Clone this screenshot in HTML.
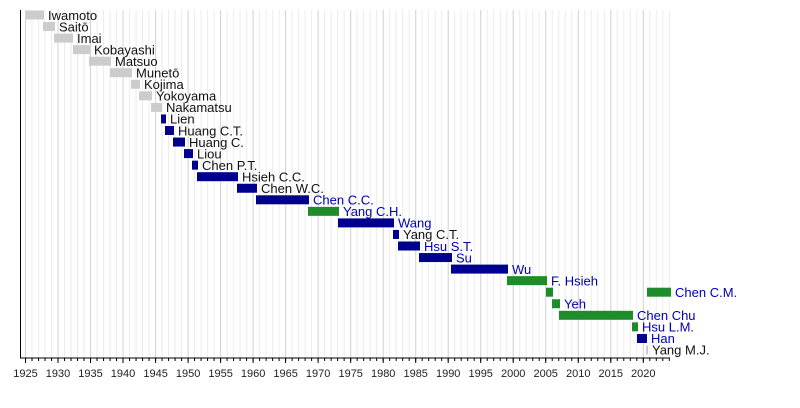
<!DOCTYPE html>
<html><head><meta charset="utf-8"><style>html,body{margin:0;padding:0;background:#fff}svg{display:block}text{font-family:"Liberation Sans",sans-serif;font-size:13px}</style></head><body>
<svg width="800" height="408" viewBox="0 0 800 408" xmlns="http://www.w3.org/2000/svg">
<defs>
<pattern id="g" patternUnits="userSpaceOnUse" x="25" y="0" width="6.503" height="10"><rect x="0" y="0" width="1" height="10" fill="#ececec"/></pattern>
<pattern id="t" patternUnits="userSpaceOnUse" x="25" y="358" width="6.503" height="10"><rect x="0" y="0" width="1" height="3" fill="#000"/></pattern>
</defs>
<rect x="21" y="10" width="650" height="348" fill="url(#g)"/>
<g stroke="#d4d4d4" stroke-width="1">
<line x1="25.5" y1="10" x2="25.5" y2="358"/><line x1="58" y1="10" x2="58" y2="358"/><line x1="90.5" y1="10" x2="90.5" y2="358"/><line x1="123" y1="10" x2="123" y2="358"/><line x1="155.6" y1="10" x2="155.6" y2="358"/><line x1="188.1" y1="10" x2="188.1" y2="358"/><line x1="220.6" y1="10" x2="220.6" y2="358"/><line x1="253.1" y1="10" x2="253.1" y2="358"/><line x1="285.6" y1="10" x2="285.6" y2="358"/><line x1="318.1" y1="10" x2="318.1" y2="358"/><line x1="350.7" y1="10" x2="350.7" y2="358"/><line x1="383.2" y1="10" x2="383.2" y2="358"/><line x1="415.7" y1="10" x2="415.7" y2="358"/><line x1="448.2" y1="10" x2="448.2" y2="358"/><line x1="480.7" y1="10" x2="480.7" y2="358"/><line x1="513.2" y1="10" x2="513.2" y2="358"/><line x1="545.7" y1="10" x2="545.7" y2="358"/><line x1="578.3" y1="10" x2="578.3" y2="358"/><line x1="610.8" y1="10" x2="610.8" y2="358"/><line x1="643.3" y1="10" x2="643.3" y2="358"/>
</g>
<rect x="21" y="358" width="650" height="3" fill="url(#t)"/>
<g stroke="#000" stroke-width="1">
<line x1="25.5" y1="358" x2="25.5" y2="363"/><line x1="58" y1="358" x2="58" y2="363"/><line x1="90.5" y1="358" x2="90.5" y2="363"/><line x1="123" y1="358" x2="123" y2="363"/><line x1="155.6" y1="358" x2="155.6" y2="363"/><line x1="188.1" y1="358" x2="188.1" y2="363"/><line x1="220.6" y1="358" x2="220.6" y2="363"/><line x1="253.1" y1="358" x2="253.1" y2="363"/><line x1="285.6" y1="358" x2="285.6" y2="363"/><line x1="318.1" y1="358" x2="318.1" y2="363"/><line x1="350.7" y1="358" x2="350.7" y2="363"/><line x1="383.2" y1="358" x2="383.2" y2="363"/><line x1="415.7" y1="358" x2="415.7" y2="363"/><line x1="448.2" y1="358" x2="448.2" y2="363"/><line x1="480.7" y1="358" x2="480.7" y2="363"/><line x1="513.2" y1="358" x2="513.2" y2="363"/><line x1="545.7" y1="358" x2="545.7" y2="363"/><line x1="578.3" y1="358" x2="578.3" y2="363"/><line x1="610.8" y1="358" x2="610.8" y2="363"/><line x1="643.3" y1="358" x2="643.3" y2="363"/>
<line x1="20.5" y1="10" x2="20.5" y2="358.5"/><line x1="20" y1="358" x2="670" y2="358"/>
</g>
<g text-anchor="middle" fill="#222">
<text x="25.5" y="377" style="font-size:11px">1925</text><text x="58" y="377" style="font-size:11px">1930</text><text x="90.5" y="377" style="font-size:11px">1935</text><text x="123" y="377" style="font-size:11px">1940</text><text x="155.6" y="377" style="font-size:11px">1945</text><text x="188.1" y="377" style="font-size:11px">1950</text><text x="220.6" y="377" style="font-size:11px">1955</text><text x="253.1" y="377" style="font-size:11px">1960</text><text x="285.6" y="377" style="font-size:11px">1965</text><text x="318.1" y="377" style="font-size:11px">1970</text><text x="350.7" y="377" style="font-size:11px">1975</text><text x="383.2" y="377" style="font-size:11px">1980</text><text x="415.7" y="377" style="font-size:11px">1985</text><text x="448.2" y="377" style="font-size:11px">1990</text><text x="480.7" y="377" style="font-size:11px">1995</text><text x="513.2" y="377" style="font-size:11px">2000</text><text x="545.7" y="377" style="font-size:11px">2005</text><text x="578.3" y="377" style="font-size:11px">2010</text><text x="610.8" y="377" style="font-size:11px">2015</text><text x="643.3" y="377" style="font-size:11px">2020</text>
</g>
<g fill="#cccccc">
<rect x="26" y="10.5" width="18" height="9"/><rect x="43" y="22.05" width="12" height="9"/><rect x="54" y="33.6" width="19" height="9"/><rect x="73" y="45.15" width="17" height="9"/><rect x="89" y="56.7" width="22" height="9"/><rect x="110" y="68.25" width="22" height="9"/><rect x="131" y="79.8" width="9" height="9"/><rect x="139" y="91.35" width="13" height="9"/><rect x="151" y="102.9" width="11" height="9"/><rect x="646" y="345.45" width="2" height="9"/>
</g>
<g fill="#00008f">
<rect x="161" y="114.45" width="5" height="9"/><rect x="165" y="126" width="9" height="9"/><rect x="173" y="137.55" width="12" height="9"/><rect x="184" y="149.1" width="9" height="9"/><rect x="192" y="160.65" width="6" height="9"/><rect x="197" y="172.2" width="41" height="9"/><rect x="237" y="183.75" width="20" height="9"/><rect x="256" y="195.3" width="53" height="9"/><rect x="338" y="218.4" width="56" height="9"/><rect x="393" y="229.95" width="6" height="9"/><rect x="398" y="241.5" width="22" height="9"/><rect x="419" y="253.05" width="33" height="9"/><rect x="451" y="264.6" width="57" height="9"/><rect x="637" y="334" width="10" height="9"/>
</g>
<g fill="#1e8c2a">
<rect x="308" y="206.85" width="31" height="9"/><rect x="507" y="276.15" width="40" height="9"/><rect x="546" y="287.7" width="7" height="9"/><rect x="647" y="287.7" width="24" height="9"/><rect x="552" y="299.25" width="8" height="9"/><rect x="559" y="310.8" width="74" height="9"/><rect x="632" y="322.35" width="6" height="9"/>
</g>
<g fill="#111">
<text x="48" y="19.8">Iwamoto</text><text x="59" y="31.3">Saitō</text><text x="77" y="42.9">Imai</text><text x="94" y="54.4">Kobayashi</text><text x="115" y="66">Matsuo</text><text x="136" y="77.5">Munetō</text><text x="144" y="89.1">Kojima</text><text x="156" y="100.6">Yokoyama</text><text x="166" y="112.2">Nakamatsu</text><text x="170" y="123.7">Lien</text><text x="178" y="135.3">Huang C.T.</text><text x="189" y="146.8">Huang C.</text><text x="197" y="158.4">Liou</text><text x="202" y="169.9">Chen P.T.</text><text x="242" y="181.5">Hsieh C.C.</text><text x="261" y="193">Chen W.C.</text><text x="403" y="239.2">Yang C.T.</text><text x="652" y="354.7">Yang M.J.</text>
</g>
<g fill="#0000b0">
<text x="313" y="204.6">Chen C.C.</text><text x="343" y="216.1">Yang C.H.</text><text x="398" y="227.7">Wang</text><text x="424" y="250.8">Hsu S.T.</text><text x="456" y="262.3">Su</text><text x="512" y="273.9">Wu</text><text x="551" y="285.4">F. Hsieh</text><text x="675" y="297">Chen C.M.</text><text x="564" y="308.5">Yeh</text><text x="637" y="320.1">Chen Chu</text><text x="642" y="331.6">Hsu L.M.</text><text x="651" y="343.2">Han</text>
</g>
</svg>
</body></html>
